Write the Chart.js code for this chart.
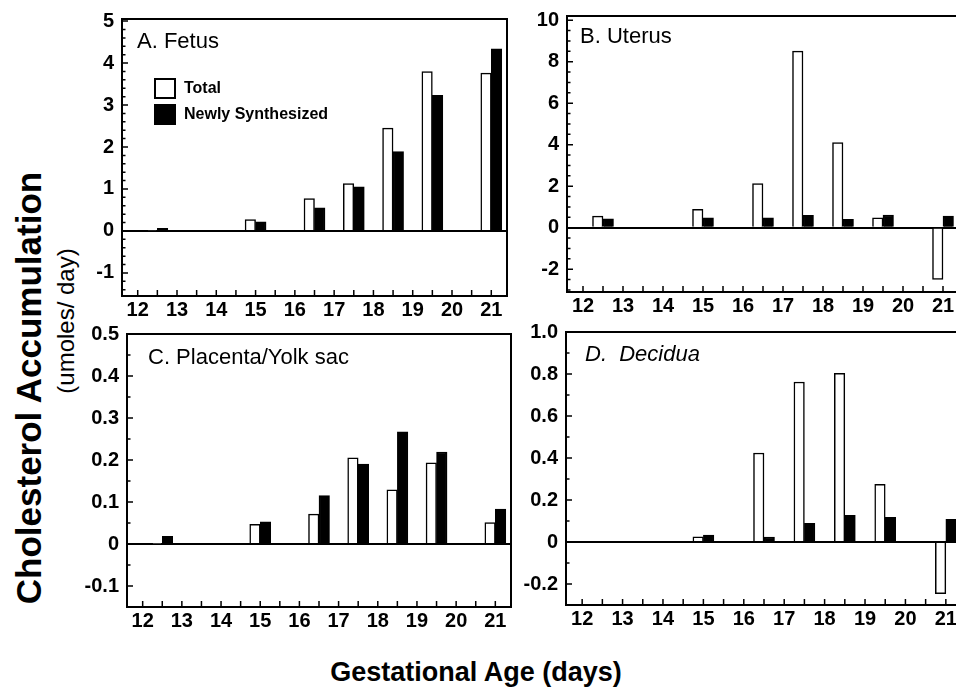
<!DOCTYPE html>
<html>
<head>
<meta charset="utf-8">
<title>Cholesterol Accumulation</title>
<script src="https://cdn.jsdelivr.net/npm/chart.js@4.4.0/dist/chart.umd.min.js"></script>
<style>
  html, body { margin: 0; padding: 0; background: #fff; }
  body { width: 956px; height: 694px; overflow: hidden; position: relative; font-family: 'Liberation Sans', Arial, sans-serif; }
  canvas { position: absolute; }
  .axis-title { position: absolute; white-space: nowrap; color: #000; font-weight: bold; transform: translate(-50%, -50%); }
  .vertical { transform: translate(-50%, -50%) rotate(-90deg); }
  #yTitle { left: 29px; top: 388px; font-size: 35px; }
  #yUnits { left: 66px; top: 321px; font-size: 24px; font-weight: normal; }
  #xTitle { left: 476px; top: 672px; font-size: 27px; }
</style>
</head>
<body>
<div id="yTitle" class="axis-title vertical">Cholesterol Accumulation</div>
<div id="yUnits" class="axis-title vertical">(umoles/ day)</div>
<div id="xTitle" class="axis-title">Gestational Age (days)</div>
<canvas id="fetusChart"></canvas>
<canvas id="uterusChart"></canvas>
<canvas id="placentaChart"></canvas>
<canvas id="deciduaChart"></canvas>
<script>
// Gestational ages with measurements, and the day tick labels
const gestationalDays = [12.5, 15, 16.5, 17.5, 18.5, 19.5, 21];
const dayTicks = ['12', '13', '14', '15', '16', '17', '18', '19', '20', '21'];
const seriesLabels = ['Total', 'Newly Synthesized'];

// A. Fetus
const fetusTotal = [0.02, 0.27, 0.77, 1.13, 2.45, 3.80, 3.76];
const fetusNew = [0.06, 0.22, 0.55, 1.05, 1.89, 3.23, 4.34];
const fetusTicks = ['-1', '0', '1', '2', '3', '4', '5'];

// B. Uterus
const uterusTotal = [0.56, 0.88, 2.12, 8.51, 4.10, 0.48, -2.49];
const uterusNew = [0.43, 0.48, 0.47, 0.59, 0.40, 0.61, 0.56];
const uterusTicks = ['-2', '0', '2', '4', '6', '8', '10'];

// C. Placenta/Yolk sac
const placentaTotal = [0.002, 0.047, 0.071, 0.205, 0.129, 0.193, 0.051];
const placentaNew = [0.018, 0.053, 0.115, 0.190, 0.267, 0.219, 0.083];
const placentaTicks = ['-0.1', '0', '0.1', '0.2', '0.3', '0.4', '0.5'];

// D. Decidua
const deciduaTotal = [0, 0.025, 0.424, 0.762, 0.803, 0.275, -0.246];
const deciduaNew = [0, 0.033, 0.024, 0.089, 0.127, 0.117, 0.108];
const deciduaTicks = ['-0.2', '0', '0.2', '0.4', '0.6', '0.8', '1.0'];

const FONT = "'Liberation Sans', Arial, sans-serif";

// Draws the frame, inward ticks, panel title and (for A) the legend
const panelDecor = {
  id: 'panelDecor',
  afterDraw(chart, args, opts) {
    const { ctx, chartArea: a } = chart;
    const x = chart.scales.x;
    const y = chart.scales.y;
    ctx.save();
    ctx.strokeStyle = '#000';

    // frame
    ctx.lineWidth = 2;
    ctx.strokeRect(a.left, a.top, a.right - a.left, a.bottom - a.top);

    // bottom ticks every half day
    ctx.lineWidth = 1.5;
    ctx.beginPath();
    for (let k = 24; k <= 42; k++) {
      const px = x.getPixelForValue(k / 2);
      ctx.moveTo(px, a.bottom);
      ctx.lineTo(px, a.bottom - 6);
    }
    // left ticks, major and minor
    const kMin = Math.ceil(y.min / opts.minorStep - 1e-6);
    const kMax = Math.floor(y.max / opts.minorStep + 1e-6);
    for (let k = kMin; k <= kMax; k++) {
      const v = k * opts.minorStep;
      const r = v / opts.majorStep;
      const major = Math.abs(r - Math.round(r)) < 1e-6;
      const py = y.getPixelForValue(v);
      ctx.moveTo(a.left, py);
      ctx.lineTo(a.left + (major ? 6 : 3.5), py);
    }
    ctx.stroke();

    // panel title
    ctx.fillStyle = '#000';
    ctx.textBaseline = 'middle';
    ctx.textAlign = 'left';
    ctx.font = (opts.italic ? 'italic ' : '') + '22px ' + FONT;
    ctx.fillText(opts.title, a.left + opts.titleDx, a.top + opts.titleDy);

    // legend
    if (opts.legend) {
      ctx.font = 'bold 16px ' + FONT;
      chart.data.datasets.forEach((ds, i) => {
        const bx = a.left + 33;
        const by = a.top + 60 + i * 26;
        ctx.fillStyle = ds.backgroundColor;
        ctx.fillRect(bx, by, 20, 19);
        ctx.lineWidth = 2;
        ctx.strokeRect(bx, by, 20, 19);
        ctx.fillStyle = '#000';
        ctx.fillText(ds.label, bx + 29, by + 10);
      });
    }
    ctx.restore();
  }
};

function makePanel(p) {
  const canvas = document.getElementById(p.id);
  const padTop = 20, padRight = 10, yAxisW = 60, xAxisH = 36;
  const w = p.area.right - p.area.left + yAxisW + padRight;
  const h = p.area.bottom - p.area.top + padTop + xAxisH;
  canvas.width = w;
  canvas.height = h;
  canvas.style.left = (p.area.left - yAxisW) + 'px';
  canvas.style.top = (p.area.top - padTop) + 'px';

  const tickFont = { family: FONT, size: 20, weight: 'bold' };

  new Chart(canvas, {
    type: 'bar',
    data: {
      datasets: [
        {
          label: seriesLabels[0],
          data: gestationalDays.map((d, i) => ({ x: d, y: p.total[i] })),
          backgroundColor: '#ffffff',
          borderColor: '#000000',
          borderWidth: 1.5,
          barThickness: 10.5
        },
        {
          label: seriesLabels[1],
          data: gestationalDays.map((d, i) => ({ x: d, y: p.newly[i] })),
          backgroundColor: '#000000',
          borderColor: '#000000',
          borderWidth: 1.5,
          barThickness: 10.5
        }
      ]
    },
    options: {
      responsive: false,
      animation: false,
      layout: { padding: { top: padTop, right: padRight, left: 0, bottom: 0 } },
      plugins: {
        legend: { display: false },
        tooltip: { enabled: false },
        panelDecor: {
          title: p.title,
          italic: !!p.italic,
          titleDx: p.titleDx,
          titleDy: p.titleDy,
          minorStep: p.minorStep,
          majorStep: p.majorStep,
          legend: !!p.legend
        }
      },
      scales: {
        x: {
          type: 'linear',
          min: 11.6,
          max: 21.4,
          offset: false,
          grid: { display: false, drawTicks: false },
          border: { display: false },
          ticks: {
            font: tickFont,
            color: '#000',
            padding: 2,
            autoSkip: false,
            maxRotation: 0,
            callback: (v, i) => dayTicks[i]
          },
          afterBuildTicks: s => { s.ticks = dayTicks.map(t => ({ value: parseFloat(t) })); },
          afterFit: s => { s.height = xAxisH; }
        },
        y: {
          min: p.yMin,
          max: p.yMax,
          grid: {
            drawTicks: false,
            lineWidth: 2,
            color: c => (c.tick && c.tick.value === 0 ? '#000' : 'rgba(0,0,0,0)')
          },
          border: { display: false },
          ticks: {
            font: tickFont,
            color: '#000',
            padding: 8,
            callback: (v, i) => p.ticks[i]
          },
          afterBuildTicks: s => { s.ticks = p.ticks.map(t => ({ value: parseFloat(t) })); },
          afterFit: s => { s.width = yAxisW; }
        }
      }
    },
    plugins: [panelDecor]
  });
}

makePanel({
  id: 'fetusChart', title: 'A. Fetus', total: fetusTotal, newly: fetusNew, ticks: fetusTicks,
  yMin: -1.55, yMax: 5.05, majorStep: 1, minorStep: 0.2,
  area: { left: 122, top: 19, right: 507, bottom: 296 }, titleDx: 15, titleDy: 23, legend: true
});
makePanel({
  id: 'uterusChart', title: 'B. Uterus', total: uterusTotal, newly: uterusNew, ticks: uterusTicks,
  yMin: -3.1, yMax: 10.2, majorStep: 2, minorStep: 0.5,
  area: { left: 567, top: 16, right: 959, bottom: 292 }, titleDx: 13, titleDy: 21
});
makePanel({
  id: 'placentaChart', title: 'C. Placenta/Yolk sac', total: placentaTotal, newly: placentaNew, ticks: placentaTicks,
  yMin: -0.15, yMax: 0.5, majorStep: 0.1, minorStep: 0.05,
  area: { left: 127, top: 334, right: 511, bottom: 607 }, titleDx: 21, titleDy: 24
});
makePanel({
  id: 'deciduaChart', title: 'D.  Decidua', italic: true, total: deciduaTotal, newly: deciduaNew, ticks: deciduaTicks,
  yMin: -0.3, yMax: 1.0, majorStep: 0.2, minorStep: 0.1,
  area: { left: 566, top: 332, right: 962, bottom: 605 }, titleDx: 19, titleDy: 23
});
</script>
</body>
</html>
